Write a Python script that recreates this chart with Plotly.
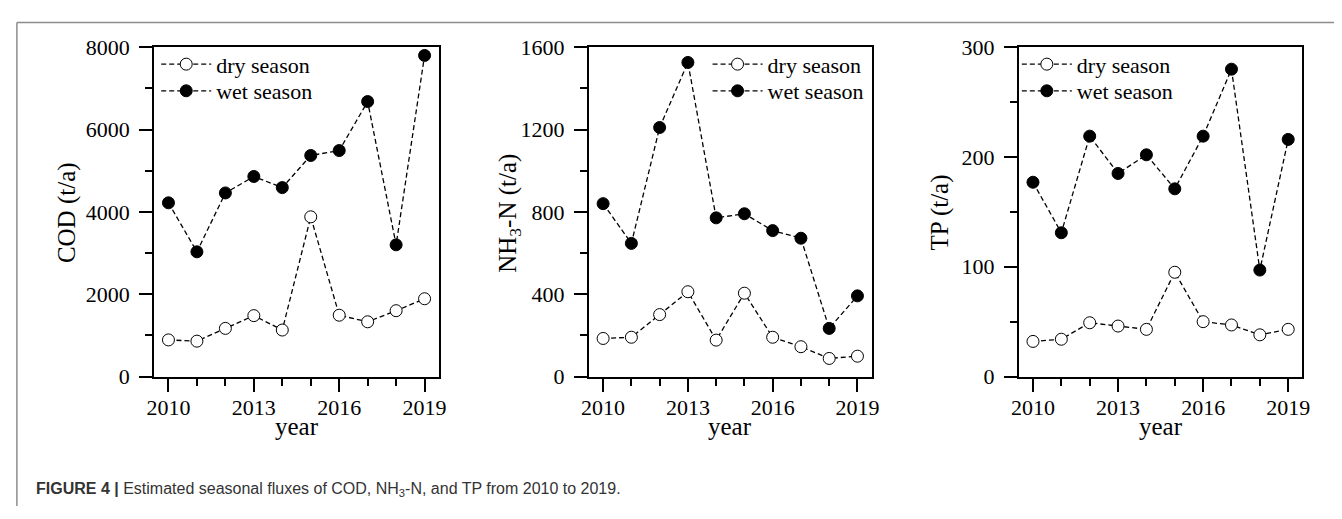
import plotly.graph_objects as go

years = [2010, 2011, 2012, 2013, 2014, 2015, 2016, 2017, 2018, 2019]

cod_dry = [890, 860, 1170, 1480, 1130, 3880, 1490, 1330, 1600, 1890]
cod_wet = [4220, 3030, 4460, 4860, 4590, 5370, 5490, 6680, 3200, 7800]

nh3_dry = [185, 191, 301, 412, 177, 405, 191, 145, 88, 99]
nh3_wet = [840, 647, 1210, 1526, 771, 791, 709, 672, 234, 392]

tp_dry = [32, 34, 49, 46, 43, 95, 50, 47, 38, 43]
tp_wet = [177, 131, 219, 185, 202, 171, 219, 280, 97, 216]

x_labels = [2010, 2013, 2016, 2019]
y_titles = ["COD (t/a)", "NH<sub>3</sub>-N (t/a)", "TP (t/a)"]
x_title = "year"
y_ranges = [[0, 8000], [0, 1600], [0, 300]]
y_dticks = [2000, 400, 100]
series_names = ["dry season", "wet season"]

W, H = 1342, 519
SERIF = "Liberation Serif, Times New Roman, serif"

# pixel geometry
x_px = [(148, 436), (588, 874), (1023, 1310)]
y_top, y_bot = 37, 383
legend_x = [150, 708, 1021]
legend_rows = [55, 83]
ytitle_x = [60, 508, 943]
ytitle_y = 211
xtitle_y = 436

fig = go.Figure()
panels = [(cod_dry, cod_wet), (nh3_dry, nh3_wet), (tp_dry, tp_wet)]

layout = dict(
    width=W, height=H, margin=dict(l=0, r=0, t=0, b=0),
    paper_bgcolor="white", plot_bgcolor="white", showlegend=True,
    font=dict(family=SERIF, color="black", size=22),
)

k = 0
for i, (dry, wet) in enumerate(panels):
    sfx = "" if i == 0 else str(i + 1)
    for j, (name, vals, fill) in enumerate([(series_names[0], dry, "white"), (series_names[1], wet, "black")]):
        k += 1
        leg = "legend" if k == 1 else "legend" + str(k)
        fig.add_trace(go.Scatter(
            x=years, y=vals, name=name, mode="lines+markers",
            xaxis="x" + sfx, yaxis="y" + sfx, legend=leg,
            line=dict(color="black", width=1.3, dash="5px,3px"),
            marker=dict(size=12, color=fill, line=dict(color="black", width=1)),
        ))
        layout[leg] = dict(
            x=legend_x[i] / W, y=1 - legend_rows[j] / H, xanchor="left", yanchor="middle",
            bgcolor="rgba(0,0,0,0)", borderwidth=0, itemwidth=50,
            font=dict(family=SERIF, size=22),
        )

annotations = []
for i in range(3):
    sfx = "" if i == 0 else str(i + 1)
    x0, x1 = x_px[i]
    layout["xaxis" + sfx] = dict(
        domain=[x0 / W, x1 / W], anchor="y" + sfx, range=[2009.5, 2019.5],
        tickvals=x_labels, ticks="outside", ticklen=13, tickwidth=2, ticklabelstandoff=-3,
        minor=dict(dtick=1, tick0=2010, ticks="outside", ticklen=7, tickwidth=2, tickcolor="black"),
        showline=True, linewidth=2, linecolor="black", mirror=True,
        showgrid=False, zeroline=False, tickcolor="black",
        tickfont=dict(family=SERIF, size=22),
    )
    layout["yaxis" + sfx] = dict(
        domain=[1 - y_bot / H, 1 - y_top / H], anchor="x" + sfx, range=y_ranges[i],
        dtick=y_dticks[i], ticks="outside", ticklen=13, tickwidth=2, ticklabelstandoff=5,
        minor=dict(dtick=y_dticks[i] / 2, ticks="outside", ticklen=7, tickwidth=2, tickcolor="black"),
        showline=True, linewidth=2, linecolor="black", mirror=True,
        showgrid=False, zeroline=False, tickcolor="black",
        tickfont=dict(family=SERIF, size=22),
    )
    annotations.append(dict(
        xref="paper", yref="paper", x=(x0 + x1) / 2 / W, y=1 - xtitle_y / H,
        xanchor="center", yanchor="middle", showarrow=False, text=x_title,
        font=dict(family=SERIF, size=25, color="black"),
    ))
    annotations.append(dict(
        xref="paper", yref="paper", x=ytitle_x[i] / W, y=1 - ytitle_y / H,
        xanchor="center", yanchor="middle", showarrow=False, text=y_titles[i], textangle=-90,
        font=dict(family=SERIF, size=25, color="black"),
    ))

annotations.append(dict(
    xref="paper", yref="paper", x=26 / W, y=1 - 502 / H, xanchor="left", yanchor="middle",
    showarrow=False,
    text="<b>FIGURE 4 |</b> Estimated seasonal fluxes of COD, NH<sub>3</sub>-N, and TP from 2010 to 2019.",
    font=dict(family="Liberation Sans, Arial, sans-serif", size=16, color="#333333"),
))
layout["annotations"] = annotations

fig.update_layout(**layout)

# figure frame (top and left rule)
fig.add_shape(type="line", xref="paper", yref="paper", x0=9 / W, x1=1, y0=1 - 11 / H, y1=1 - 11 / H,
              line=dict(color="#8c8c8c", width=1.5))
fig.add_shape(type="line", xref="paper", yref="paper", x0=9 / W, x1=9 / W, y0=0, y1=1 - 11 / H,
              line=dict(color="#8c8c8c", width=1.5))

fig.write_html("out.html")
